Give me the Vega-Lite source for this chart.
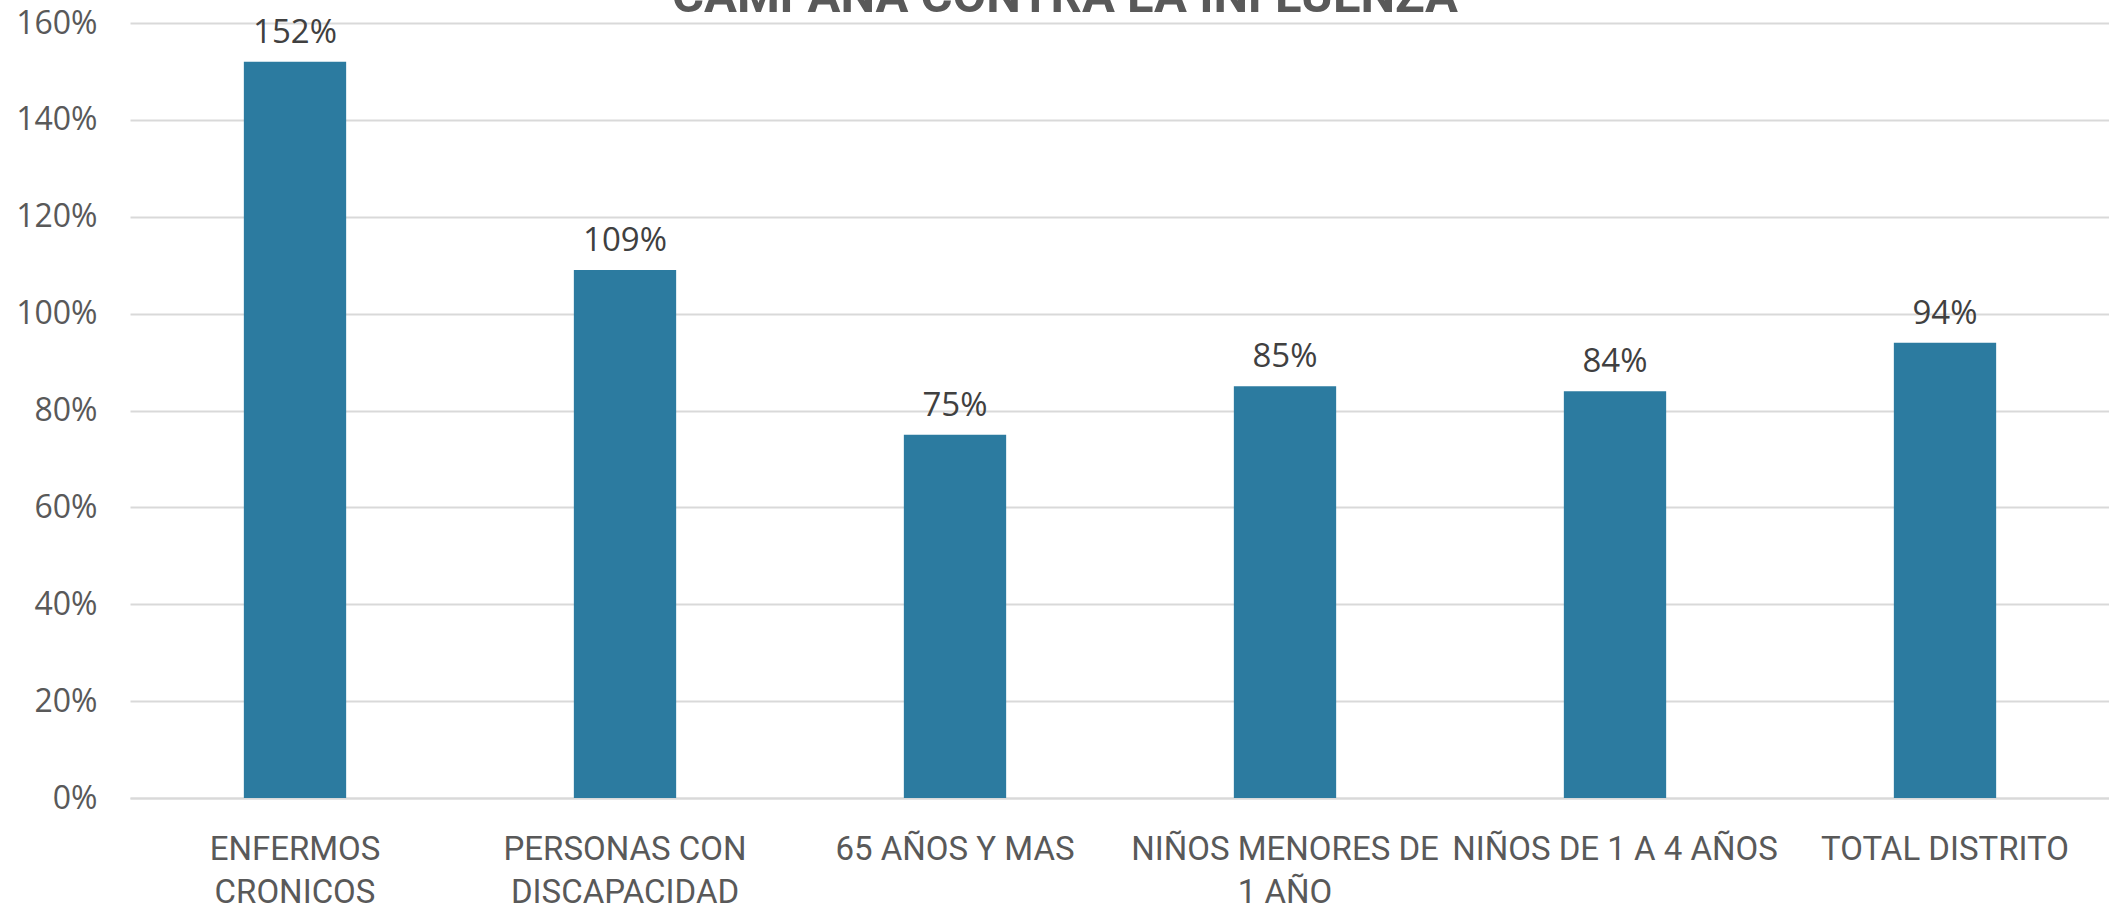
{
  "$schema": "https://vega.github.io/schema/vega-lite/v6.json",
  "autosize": {"type": "none"},
  "padding": {"left": 130, "top": 23, "right": 0, "bottom": 107},
  "width": 1980,
  "height": 775,
  "background": "white",
  "data": {
    "values": [
      {"grupo": "ENFERMOS CRONICOS", "cobertura": 1.52},
      {"grupo": "PERSONAS CON DISCAPACIDAD", "cobertura": 1.09},
      {"grupo": "65 AÑOS Y MAS", "cobertura": 0.75},
      {"grupo": "NIÑOS MENORES DE 1 AÑO", "cobertura": 0.85},
      {"grupo": "NIÑOS DE 1 A 4 AÑOS", "cobertura": 0.84},
      {"grupo": "TOTAL DISTRITO", "cobertura": 0.94}
    ]
  },
  "encoding": {
    "x": {
      "field": "grupo",
      "type": "nominal",
      "sort": null,
      "title": null,
      "scale": {"paddingInner": 0.69, "paddingOuter": 0.345},
      "axis": {
        "labelAngle": 0,
        "labelFont": "Roboto",
        "labelFontSize": 33,
        "labelColor": "#595959",
        "labelPadding": 35,
        "labelLineHeight": 43,
        "labelOverlap": false,
        "labelBound": false,
        "labelLimit": 0,
        "labelBaseline": "top",
        "ticks": false,
        "domain": true,
        "domainColor": "#d9d9d9",
        "domainWidth": 2,
        "grid": false,
        "labelExpr": "datum.label == 'ENFERMOS CRONICOS' ? ['ENFERMOS', 'CRONICOS'] : datum.label == 'PERSONAS CON DISCAPACIDAD' ? ['PERSONAS CON', 'DISCAPACIDAD'] : datum.label == 'NIÑOS MENORES DE 1 AÑO' ? ['NIÑOS MENORES DE', '1 AÑO'] : datum.label"
      }
    },
    "y": {
      "field": "cobertura",
      "type": "quantitative",
      "title": null,
      "scale": {"domain": [0, 1.6], "nice": false},
      "axis": {
        "values": [0, 0.2, 0.4, 0.6, 0.8, 1.0, 1.2, 1.4, 1.6],
        "format": ".0%",
        "labelFont": "Open Sans",
        "labelFontSize": 32,
        "labelColor": "#595959",
        "labelPadding": 33,
        "ticks": false,
        "domain": false,
        "grid": true,
        "gridColor": "#d9d9d9",
        "gridWidth": 2
      }
    }
  },
  "layer": [
    {
      "mark": {"type": "bar", "color": "#2C7BA0"}
    },
    {
      "mark": {
        "type": "text",
        "baseline": "alphabetic",
        "dy": -19,
        "font": "Open Sans",
        "fontSize": 33,
        "color": "#404040"
      },
      "encoding": {
        "text": {"field": "cobertura", "type": "quantitative", "format": ".0%"}
      }
    },
    {
      "data": {"values": [{"titulo": "CAMPAÑA CONTRA LA INFLUENZA", "grupo": "65 AÑOS Y MAS", "nivel": 1.6227}]},
      "mark": {
        "type": "text",
        "baseline": "alphabetic",
        "align": "center",
        "dx": 110,
        "font": "Roboto",
        "fontWeight": "bold",
        "fontSize": 49,
        "color": "#595959"
      },
      "encoding": {
        "y": {"field": "nivel", "type": "quantitative"},
        "text": {"field": "titulo", "type": "nominal"}
      }
    }
  ],
  "config": {"view": {"stroke": null}}
}
